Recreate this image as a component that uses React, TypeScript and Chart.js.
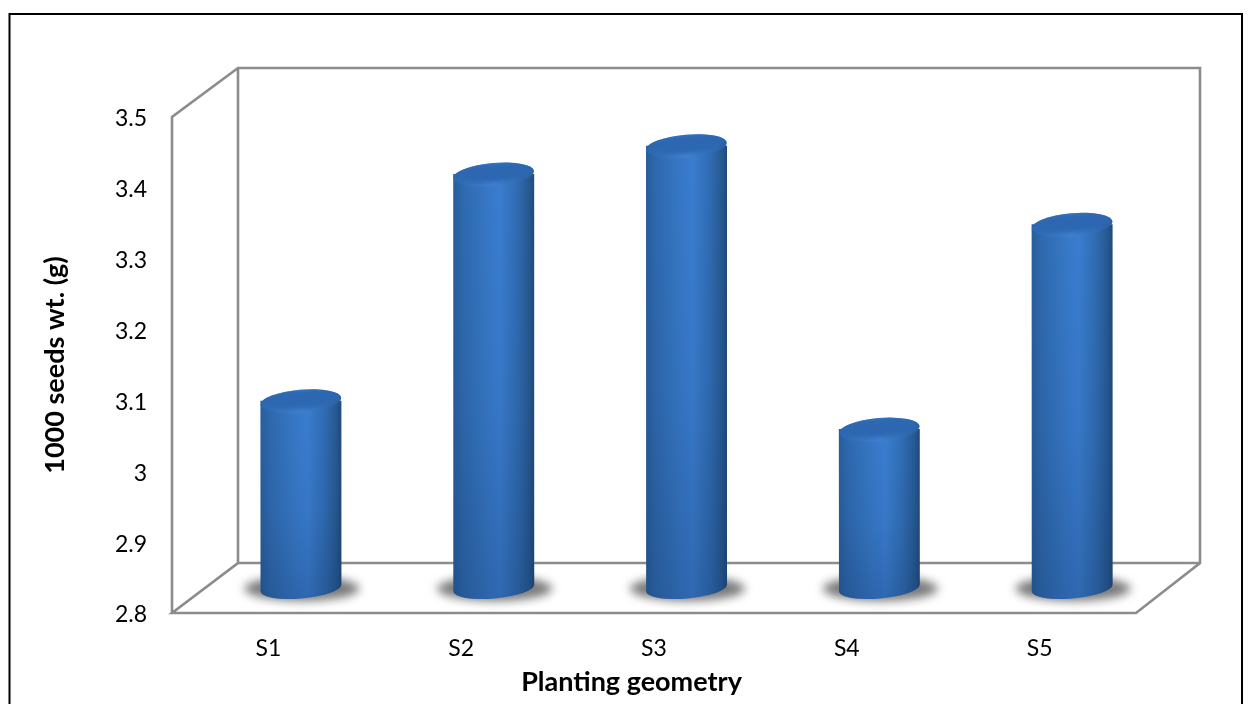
import React, { useEffect, useRef } from "react";
import { Chart, registerables } from "chart.js";

Chart.register(...registerables);

const categories = ["S1", "S2", "S3", "S4", "S5"];
const seedWeights = [3.065, 3.385, 3.425, 3.025, 3.314];
const yTicks = [2.8, 2.9, 3.0, 3.1, 3.2, 3.3, 3.4, 3.5];
const xAxisTitle = "Planting geometry";
const yAxisTitle = "1000 seeds wt. (g)";

const FONT = "Lato, Carlito, Calibri, sans-serif";
const DEPTH_X = 66;
const DEPTH_Y = 49;
const WALL = "#8c8c8c";
const TILT = (-5 * Math.PI) / 180;
const RY = 10.5;

// Page frame and the open 3D box behind the bars.
const boxPlugin = {
  id: "box",
  beforeDatasetsDraw(chart: any) {
    const { ctx } = chart;
    const { left, right, top, bottom } = chart.chartArea;
    ctx.save();
    ctx.strokeStyle = "#000";
    ctx.lineWidth = 2;
    ctx.beginPath();
    ctx.moveTo(9.5, 720);
    ctx.lineTo(9.5, 14);
    ctx.lineTo(1242, 14);
    ctx.lineTo(1242, 720);
    ctx.stroke();

    ctx.strokeStyle = WALL;
    ctx.lineWidth = 2.6;
    ctx.lineJoin = "miter";
    const bx = left + DEPTH_X;
    const bxr = right + DEPTH_X - 2;
    const by = top - DEPTH_Y;
    const bb = bottom - DEPTH_Y - 1;
    ctx.beginPath();
    ctx.moveTo(left, bottom);
    ctx.lineTo(left, top);
    ctx.lineTo(bx, by);
    ctx.lineTo(bxr, by);
    ctx.lineTo(bxr, bb);
    ctx.lineTo(right, bottom);
    ctx.lineTo(left, bottom);
    ctx.lineTo(bx, bb);
    ctx.lineTo(bx, by);
    ctx.moveTo(bx, bb);
    ctx.lineTo(bxr, bb);
    ctx.stroke();
    ctx.restore();
  },
  afterDatasetsDraw(chart: any) {
    const { ctx } = chart;
    const meta = chart.getDatasetMeta(0);
    meta.data.forEach((bar: any) => {
      const cx = bar.x + DEPTH_X / 2 - 0.5;
      const rx = bar.width / 2;
      const topY = bar.y - DEPTH_Y / 2;
      const baseY = bar.base - DEPTH_Y / 2;

      // Soft shadow on the floor
      ctx.save();
      ctx.filter = "blur(5px)";
      ctx.fillStyle = "rgba(70,70,70,0.72)";
      ctx.beginPath();
      ctx.ellipse(cx + 1, baseY, rx + 17, 12.5, 0, 0, Math.PI * 2);
      ctx.fill();
      ctx.restore();

      // Cylinder wall
      ctx.save();
      ctx.beginPath();
      ctx.moveTo(cx - rx, topY);
      ctx.lineTo(cx + rx, topY);
      ctx.lineTo(cx + rx, baseY - 0.5);
      ctx.ellipse(cx, baseY - 0.5, rx, RY, TILT, 0, Math.PI);
      ctx.closePath();
      ctx.clip();
      const g = ctx.createLinearGradient(cx - rx, 0, cx + rx, 0);
      g.addColorStop(0, "#275e9c");
      g.addColorStop(0.12, "#2e69ae");
      g.addColorStop(0.4, "#3677c5");
      g.addColorStop(0.58, "#3a7dd0");
      g.addColorStop(0.8, "#2f6bb1");
      g.addColorStop(0.94, "#265890");
      g.addColorStop(1, "#1f4a79");
      ctx.fillStyle = g;
      ctx.fillRect(cx - rx - 1, topY - 15, rx * 2 + 2, baseY - topY + 30);
      const v = ctx.createLinearGradient(0, topY, 0, baseY + RY);
      v.addColorStop(0, "rgba(15,40,80,0)");
      v.addColorStop(0.55, "rgba(15,40,80,0.07)");
      v.addColorStop(1, "rgba(15,40,80,0.24)");
      ctx.fillStyle = v;
      ctx.fillRect(cx - rx - 1, topY - 15, rx * 2 + 2, baseY - topY + 30);
      ctx.restore();

      // Top cap: rounded bevel, its pale rim strongest at the middle of the near edge
      ctx.save();
      ctx.beginPath();
      ctx.ellipse(cx, topY + 0.5, rx, RY + 1, TILT, 0, Math.PI * 2);
      ctx.clip();
      const rim = ctx.createLinearGradient(cx - rx, 0, cx + rx, 0);
      rim.addColorStop(0, "#2c66ab");
      rim.addColorStop(0.5, "#4183d2");
      rim.addColorStop(1, "#2a5f9f");
      ctx.fillStyle = rim;
      ctx.fillRect(cx - rx - 2, topY - 16, rx * 2 + 4, 34);
      ctx.filter = "blur(2px)";
      ctx.fillStyle = "#2d67b1";
      ctx.beginPath();
      ctx.ellipse(cx, topY - 1.5, rx - 1, RY - 1, TILT, 0, Math.PI * 2);
      ctx.fill();
      ctx.restore();
    });

    // Horizontal axis title sits left of the category centre
    ctx.save();
    ctx.fillStyle = "#000";
    ctx.font = `bold 27px ${FONT}`;
    ctx.textAlign = "center";
    ctx.textBaseline = "middle";
    ctx.fillText(xAxisTitle, 631.5, 682);
    ctx.restore();
  },
};

export default function App() {
  const ref = useRef<HTMLCanvasElement>(null);

  useEffect(() => {
    const chart = new Chart(ref.current!, {
      type: "bar",
      data: {
        labels: categories,
        datasets: [
          {
            label: yAxisTitle,
            data: seedWeights,
            base: 2.8,
            backgroundColor: "rgba(0,0,0,0)",
            barPercentage: 0.42,
            categoryPercentage: 1,
          },
        ],
      },
      plugins: [boxPlugin],
      options: {
        responsive: false,
        animation: false,
        layout: { padding: { top: 117, right: 116, left: 0, bottom: 0 } },
        plugins: { legend: { display: false }, tooltip: { enabled: false } },
        scales: {
          x: {
            grid: { display: false },
            border: { display: false },
            afterFit(scale: any) {
              scale.height = 91;
            },
            ticks: {
              color: "#000",
              padding: 14,
              maxRotation: 0,
              font: { family: FONT, size: 23 },
            },
          },
          y: {
            min: 2.8,
            max: 3.5,
            grid: { display: false },
            border: { display: false },
            afterBuildTicks(scale: any) {
              scale.ticks = yTicks.map((value) => ({ value }));
            },
            afterFit(scale: any) {
              scale.width = 172;
            },
            ticks: {
              color: "#000",
              padding: 17,
              labelOffset: 2,
              font: { family: FONT, size: 23 },
              callback: (v: any) => String(Number(Number(v).toFixed(1))),
            },
            title: {
              display: true,
              text: yAxisTitle,
              color: "#000",
              padding: { top: 39, bottom: 0 },
              font: { family: FONT, size: 27, weight: "bold" },
            },
          },
        },
      },
    });
    return () => chart.destroy();
  }, []);

  return (
    <div style={{ position: "absolute", left: 0, top: 0, width: 1252, height: 704, background: "#fff" }}>
      <canvas ref={ref} width={1252} height={704} style={{ display: "block" }} />
    </div>
  );
}
